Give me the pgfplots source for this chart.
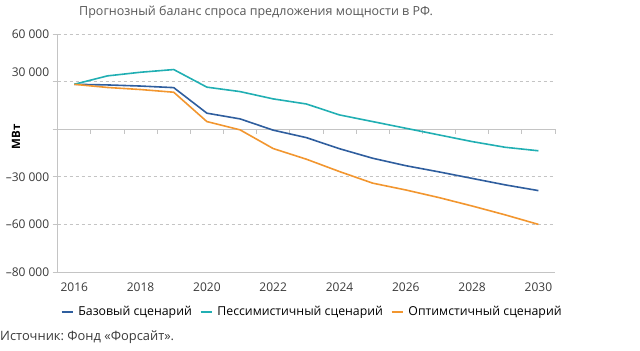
\documentclass[border=0pt]{standalone}
\usepackage{pgfplots}
\pgfplotsset{compat=1.18}
\usepackage{fontspec}
\setmainfont{Open Sans}
\frenchspacing
\definecolor{cbase}{HTML}{2F5E9E}
\definecolor{cpess}{HTML}{21AFB3}
\definecolor{copt}{HTML}{F2962F}
\definecolor{cgrid}{HTML}{C4C4C4}
\definecolor{ctext}{HTML}{3A3A3A}
\begin{document}
\begin{tikzpicture}
\useasboundingbox (0bp,0bp) rectangle (640bp,351bp);
\node[anchor=west,inner sep=0pt,font=\fontsize{12.5bp}{14bp}\selectfont,text=ctext!85] at (79bp,339bp) {Прогнозный баланс спроса предложения мощности в РФ.};
\node[anchor=west,inner sep=0pt,font=\fontsize{12.9bp}{15bp}\selectfont,text=ctext] at (0bp,14bp) {Источник: Фонд «Форсайт».};
\node[rotate=90,inner sep=0pt,font=\fontsize{11.5bp}{13bp}\selectfont\bfseries,text=black] at (16bp,214bp) {МВт};
\begin{axis}[
  at={(57.7bp,79bp)}, anchor=south west,
  width=497.3bp, height=238bp, scale only axis,
  xmin=2015.5, xmax=2030.5, ymin=-90000, ymax=60000,
  axis lines*=left,
  axis line style={cgrid, line width=0.8bp},
  xtick={2016,2018,...,2030},
  xticklabels={2016,2018,2020,2022,2024,2026,2028,2030},
  major x tick style={draw=none},
  ytick={-90000,-60000,-30000,0,60000},
  yticklabels={–80 000,–60 000,–30 000,,60 000},
  extra y ticks={30000},
  extra y tick labels={30 000},
  extra y tick style={grid=major, yticklabel style={yshift=9bp}},
  scaled y ticks=false,
  tick align=outside,
  major tick length=5bp,
  y tick style={cgrid, line width=0.8bp},
  ymajorgrids,
  grid style={cgrid, line width=0.8bp, dash pattern=on 3bp off 3bp},
  ticklabel style={font=\fontsize{12bp}{14bp}\selectfont, text=ctext},
  /pgf/number format/assume math mode=true,
  xticklabel style={yshift=-2bp},
  legend style={at={(0.006,-0.168)}, anchor=west, draw=none, fill=none,
    font=\fontsize{12.3bp}{14bp}\selectfont, legend columns=3, inner sep=0pt,
    /tikz/every even column/.append style={column sep=6bp}},
  legend image code/.code={\draw[#1,line width=1.5bp] (0bp,0bp) -- (11bp,0bp); \path (14bp,0bp);},
  clip=false,
]
\draw[cgrid, line width=0.8bp] (axis cs:2015.5,0) -- (axis cs:2030.5,0);
\pgfplotsinvokeforeach{2016.5,2017.5,...,2030.5}{
  \draw[cgrid, line width=0.8bp] (axis cs:#1,0) -- ++(0bp,-5bp);
}
\addplot[cbase, line width=1.6bp] coordinates {
(2016,28300) (2017,27900) (2018,27200) (2019,26200) (2020,10100) (2021,6500)
(2022,-600) (2023,-5300) (2024,-12300) (2025,-18300) (2026,-23000)
(2027,-26900) (2028,-31000) (2029,-35100) (2030,-38700)};
\addlegendentry{Базовый сценарий}
\addplot[cpess, line width=1.6bp] coordinates {
(2016,28300) (2017,33600) (2018,35900) (2019,37600) (2020,26500) (2021,23700)
(2022,19100) (2023,15900) (2024,9000) (2025,4800) (2026,600)
(2027,-3600) (2028,-7800) (2029,-11400) (2030,-13600)};
\addlegendentry{Пессимистичный сценарий}
\addplot[copt, line width=1.6bp] coordinates {
(2016,28300) (2017,26300) (2018,25000) (2019,23300) (2020,4800) (2021,-400)
(2022,-12200) (2023,-18900) (2024,-26700) (2025,-34000) (2026,-38300)
(2027,-43100) (2028,-48400) (2029,-54000) (2030,-60000)};
\addlegendentry{Оптимстичный сценарий}
\end{axis}
\end{tikzpicture}
\end{document}
